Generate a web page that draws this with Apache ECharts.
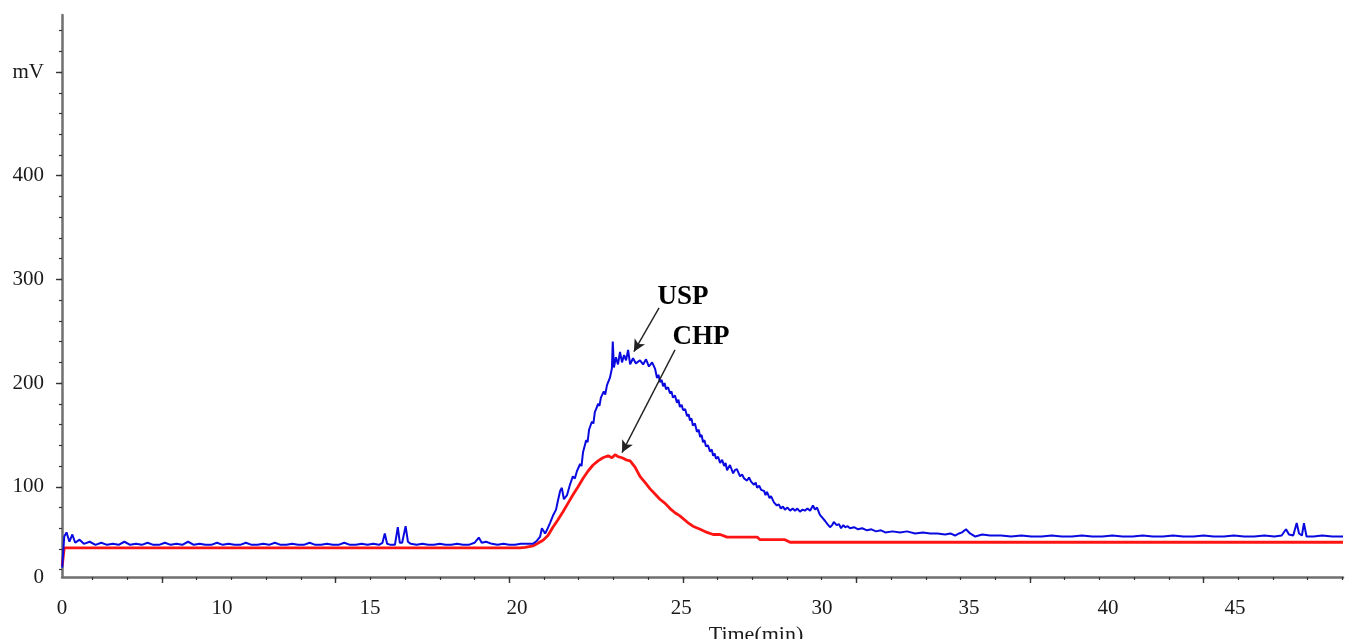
<!DOCTYPE html>
<html>
<head>
<meta charset="utf-8">
<script src="https://cdn.jsdelivr.net/npm/echarts@6/dist/echarts.min.js"></script>
<style>
html,body{margin:0;padding:0;background:#fff;}
#chart{width:1350px;height:639px;}
</style>
</head>
<body>
<div id="chart"></div>
<script>
// ---------- data (time in min, signal in mV) ----------
const xMin = 4.543, xMax = 48.82;
const yMin = 13, yMax = 555;

const xTickLabels = ['0', '10', '15', '20', '25', '30', '35', '40', '45'];
const xTickLabelAt = [4.543, 10.07, 15.19, 20.27, 25.95, 30.81, 35.89, 40.70, 45.09];
const xMajorTicks = [8, 14, 20, 26, 32, 38, 44];

const yTickLabels = ['0', '100', '200', '300', '400', 'mV'];
const yTickLabelAt = [13, 100, 200, 300, 400, 500];
const yMajorTicks = [100, 200, 300, 400, 500];

const chpData = [
  [4.55, 24], [4.62, 41], [8, 41], [12, 41], [16, 41], [20.37, 41],
  [20.55, 41.5], [20.82, 43], [20.99, 45.5], [21.17, 48.5], [21.34, 53], [21.51, 61],
  [21.68, 68], [21.86, 76], [22.03, 84], [22.20, 92], [22.38, 100], [22.55, 108],
  [22.72, 115], [22.90, 121], [23.07, 125], [23.24, 128], [23.42, 130], [23.55, 128],
  [23.66, 131], [23.76, 129], [23.90, 128], [24.04, 126], [24.18, 125], [24.35, 119],
  [24.52, 110], [24.70, 104], [24.87, 98], [25.04, 93], [25.21, 88], [25.39, 84],
  [25.56, 79], [25.73, 75], [25.90, 72], [26.15, 66], [26.35, 62], [26.60, 59],
  [26.84, 56], [27.05, 54], [27.29, 54], [27.53, 51.5], [27.98, 51.5], [28.57, 51.5],
  [28.67, 49], [29.53, 49], [29.71, 46.5], [33.51, 46.5], [40, 46.5], [48.82, 46.5]
];

const uspData = [
  [4.55, 22], [4.62, 52], [4.7, 56], [4.8, 47], [4.9, 54], [5.0, 46], [5.15, 49], [5.3, 45],
  [5.5, 47], [5.7, 44], [5.9, 46], [6.1, 44], [6.3, 45], [6.5, 44], [6.7, 47], [6.9, 44],
  [7.1, 45], [7.3, 44], [7.5, 46], [7.7, 44], [7.9, 44], [8.1, 46], [8.3, 44], [8.5, 45],
  [8.7, 44], [8.9, 47], [9.1, 44], [9.3, 45], [9.5, 44], [9.7, 44], [9.9, 46], [10.1, 44],
  [10.3, 45], [10.5, 44], [10.7, 44], [10.9, 46], [11.1, 44], [11.3, 44], [11.5, 45], [11.7, 44],
  [11.9, 46], [12.1, 44], [12.3, 44], [12.5, 45], [12.7, 44], [12.9, 44], [13.1, 46], [13.3, 44],
  [13.5, 44], [13.7, 45], [13.9, 44], [14.1, 44], [14.3, 46], [14.5, 44], [14.7, 44], [14.9, 45],
  [15.1, 44], [15.3, 45], [15.5, 44], [15.62, 46], [15.7, 55], [15.78, 45], [15.9, 44], [16.05, 44],
  [16.15, 61], [16.22, 46], [16.3, 46], [16.42, 62], [16.5, 47], [16.6, 45], [16.8, 44], [17.0, 45],
  [17.2, 44], [17.4, 44], [17.6, 45], [17.8, 44], [18.0, 44], [18.2, 45], [18.4, 44], [18.6, 44],
  [18.8, 46], [18.95, 51], [19.05, 46], [19.2, 47], [19.4, 45], [19.6, 44], [19.8, 45], [20.0, 44],
  [20.2, 44], [20.4, 45], [20.82, 45], [20.96, 48], [21.07, 52], [21.13, 60], [21.24, 55], [21.30, 58],
  [21.41, 65], [21.51, 72], [21.62, 78], [21.68, 86], [21.76, 96], [21.82, 99], [21.89, 88], [22.00, 92],
  [22.10, 102], [22.20, 110], [22.27, 108], [22.34, 115], [22.45, 122], [22.50, 120], [22.55, 133],
  [22.66, 145], [22.71, 143], [22.76, 155], [22.86, 163], [22.91, 161], [22.96, 172], [23.02, 176],
  [23.07, 180], [23.12, 178], [23.17, 186], [23.27, 192], [23.32, 189], [23.38, 198], [23.48, 205],
  [23.55, 214], [23.58, 240], [23.62, 215], [23.69, 225], [23.76, 218], [23.83, 230], [23.90, 220],
  [23.97, 227], [24.04, 222], [24.11, 232], [24.18, 218], [24.28, 224], [24.38, 219], [24.52, 222],
  [24.63, 218], [24.73, 223], [24.83, 216], [24.94, 220], [25.04, 214], [25.11, 205], [25.16, 208],
  [25.21, 201], [25.27, 203], [25.32, 197], [25.37, 200], [25.42, 194], [25.49, 196], [25.56, 190],
  [25.61, 192], [25.66, 186], [25.73, 188], [25.80, 181], [25.85, 184], [25.90, 177], [25.96, 179],
  [26.01, 174], [26.08, 175], [26.15, 168], [26.20, 170], [26.25, 164], [26.30, 166], [26.35, 159],
  [26.42, 161], [26.49, 153], [26.55, 155], [26.60, 148], [26.65, 150], [26.70, 143], [26.75, 145],
  [26.80, 139], [26.87, 140], [26.94, 134], [27.00, 136], [27.05, 130], [27.10, 132], [27.15, 127],
  [27.22, 129], [27.29, 123], [27.36, 126], [27.43, 120], [27.48, 123], [27.53, 116], [27.63, 121],
  [27.74, 113], [27.80, 116], [27.87, 117], [27.98, 110], [28.05, 112], [28.12, 108], [28.22, 106],
  [28.29, 109], [28.36, 105], [28.46, 102], [28.52, 104], [28.57, 99], [28.64, 101], [28.71, 97],
  [28.81, 96], [28.86, 92], [28.91, 95], [29.00, 89], [29.05, 91], [29.15, 85], [29.25, 82],
  [29.32, 83], [29.39, 79], [29.46, 81], [29.53, 78], [29.62, 80], [29.71, 77], [29.80, 79],
  [29.88, 77], [29.96, 79], [30.05, 76], [30.14, 78], [30.22, 77], [30.31, 79], [30.40, 77],
  [30.50, 82], [30.57, 78], [30.64, 80], [30.74, 73], [30.83, 70], [30.92, 67], [31.00, 64],
  [31.09, 61], [31.16, 63], [31.22, 66], [31.32, 63], [31.40, 64], [31.47, 60], [31.55, 63],
  [31.61, 61], [31.70, 62], [31.78, 60], [31.92, 61], [32.06, 59], [32.20, 60], [32.37, 58],
  [32.52, 59], [32.68, 57], [32.85, 58], [33.00, 56], [33.25, 57], [33.51, 56], [33.75, 57],
  [34.03, 55], [34.30, 56], [34.55, 55], [34.80, 55], [35.07, 54], [35.25, 55], [35.41, 53],
  [35.55, 55], [35.65, 56], [35.79, 59], [35.93, 55], [36.11, 52], [36.35, 54], [36.62, 53],
  [37.0, 53], [37.35, 52], [37.7, 53], [38.05, 52], [38.4, 52], [38.75, 53], [39.1, 52],
  [39.45, 52], [39.8, 53], [40.15, 52], [40.5, 52], [40.85, 53], [41.2, 52], [41.55, 52],
  [41.9, 53], [42.25, 52], [42.6, 52], [42.95, 53], [43.3, 52], [43.65, 52], [44.0, 53],
  [44.35, 52], [44.7, 52], [45.05, 53], [45.4, 52], [45.75, 52], [46.1, 53], [46.45, 52],
  [46.7, 53], [46.85, 59], [46.95, 54], [47.1, 53], [47.22, 65], [47.3, 55], [47.4, 53],
  [47.47, 65], [47.56, 52], [47.8, 52], [48.1, 53], [48.45, 52], [48.82, 52]
];

const annotations = [
  { text: 'USP', textAt: [26.01, 283], arrowFrom: [25.18, 272.6], arrowTo: [24.31, 230.3] },
  { text: 'CHP', textAt: [26.63, 244.6], arrowFrom: [25.73, 232.1], arrowTo: [23.90, 133] }
];

// ---------- helpers ----------
const xMinorTicks = [];
for (let i = 0; 5.6 + i * 1.2 <= xMax; i++) xMinorTicks.push(+(5.6 + i * 1.2).toFixed(2));
const yMinorTicks = [];
for (let v = 20; v <= 540; v += 20) yMinorTicks.push(v);

function lookupLabel(positions, labels) {
  return function (value) {
    for (let i = 0; i < positions.length; i++) {
      if (Math.abs(positions[i] - value) < 1e-6) return labels[i];
    }
    return '';
  };
}

const serif = '"Liberation Serif", "DejaVu Serif", serif';
const axisColor = '#6f6f6f';
const labelStyle = { fontFamily: serif, fontSize: 21, color: '#1a1a1a' };

const chart = echarts.init(document.getElementById('chart'), null, { renderer: 'canvas' });
chart.setOption({
  animation: false,
  backgroundColor: '#ffffff',
  grid: { left: 62, right: 7, top: 15, bottom: 62, containLabel: false, outerBoundsMode: 'none' },
  xAxis: [
    {
      type: 'value', min: xMin, max: xMax, position: 'bottom',
      axisLine: { show: true, onZero: false, lineStyle: { color: axisColor, width: 2.5 } },
      axisTick: { show: true, customValues: xMinorTicks, length: 3, lineStyle: { color: '#333', width: 1.2 } },
      axisLabel: Object.assign({ customValues: xTickLabelAt, formatter: lookupLabel(xTickLabelAt, xTickLabels), margin: 21 }, labelStyle),
      splitLine: { show: false },
      name: 'Time(min)', nameLocation: 'middle', nameGap: 44,
      nameTextStyle: { fontFamily: serif, fontSize: 22, color: '#1a1a1a', padding: [0, 0, 0, 107] }
    },
    {
      type: 'value', min: xMin, max: xMax, position: 'bottom',
      axisLine: { show: false },
      axisTick: { show: true, customValues: xMajorTicks, length: 6, lineStyle: { color: '#333', width: 1.4 } },
      axisLabel: { show: false },
      splitLine: { show: false }
    }
  ],
  yAxis: [
    {
      type: 'value', min: yMin, max: yMax, position: 'left',
      axisLine: { show: true, onZero: false, lineStyle: { color: axisColor, width: 2.5 } },
      axisTick: { show: true, customValues: yMinorTicks, length: 3, lineStyle: { color: '#333', width: 1.2 } },
      axisLabel: Object.assign({ customValues: yTickLabelAt, formatter: lookupLabel(yTickLabelAt, yTickLabels), margin: 18 }, labelStyle),
      splitLine: { show: false }
    },
    {
      type: 'value', min: yMin, max: yMax, position: 'left',
      axisLine: { show: false },
      axisTick: { show: true, customValues: yMajorTicks, length: 6, lineStyle: { color: '#333', width: 1.4 } },
      axisLabel: { show: false },
      splitLine: { show: false }
    }
  ],
  series: [
    {
      name: 'CHP', type: 'line', data: chpData, showSymbol: false, symbol: 'none',
      lineStyle: { color: '#ff1414', width: 2.8 }, z: 2
    },
    {
      name: 'USP', type: 'line', data: uspData, showSymbol: false, symbol: 'none',
      lineStyle: { color: '#0a0ae0', width: 2 }, z: 3
    },
    {
      name: 'labels', type: 'scatter', symbolSize: 0, z: 5,
      itemStyle: { opacity: 1 },
      data: annotations.map(a => ({ name: a.text, value: a.textAt })),
      label: { show: true, position: 'inside', formatter: '{b}', fontFamily: serif, fontWeight: 'bold', fontSize: 27, color: '#000', opacity: 1, textBorderWidth: 0 },
      markLine: {
        silent: true, symbol: ['none', 'arrow'], symbolSize: [9, 12],
        lineStyle: { color: '#222', width: 1.4, type: 'solid' },
        label: { show: false },
        data: annotations.map(a => [{ coord: a.arrowFrom }, { coord: a.arrowTo }])
      }
    }
  ]
});
</script>
</body>
</html>
